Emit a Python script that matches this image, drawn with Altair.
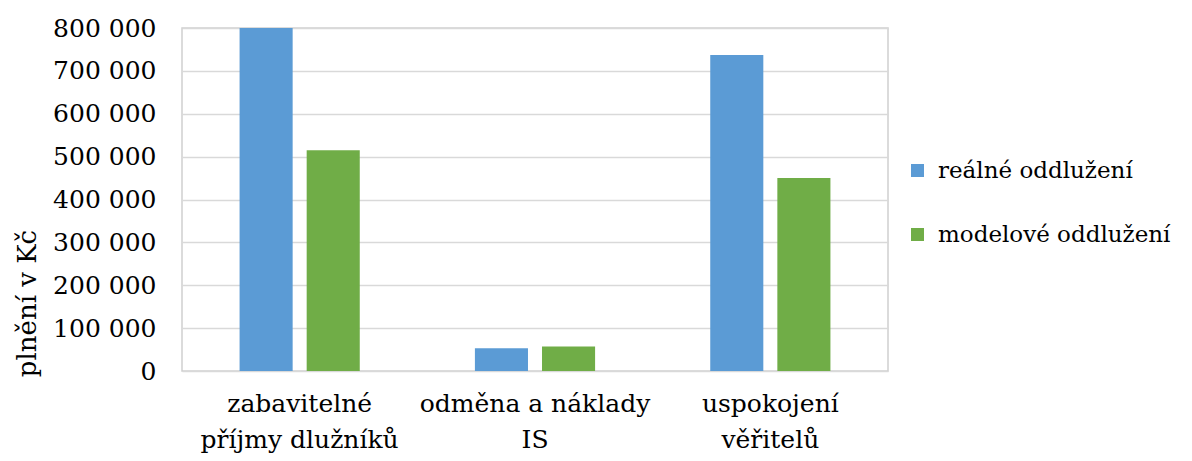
import altair as alt
import pandas as pd

categories = ["zabavitelné|příjmy dlužníků", "odměna a náklady|IS", "uspokojení|věřitelů"]
series = ["reálné oddlužení", "modelové oddlužení"]
real_values = [800000, 53000, 737000]
model_values = [515000, 57000, 450000]
colors = ["#5B9BD5", "#70AD47"]
y_ticks = [0, 100000, 200000, 300000, 400000, 500000, 600000, 700000, 800000]

rows = []
for c, r, m in zip(categories, real_values, model_values):
    rows.append({"cat": c, "series": series[0], "value": r})
    rows.append({"cat": c, "series": series[1], "value": m})
df = pd.DataFrame(rows)

FONT = "DejaVu Serif"
FS = 25

chart = alt.Chart(df).mark_bar().encode(
    x=alt.X(
        "cat:N",
        sort=categories,
        scale=alt.Scale(paddingInner=0, paddingOuter=0),
        axis=alt.Axis(
            title=None,
            labelAngle=0,
            labelExpr="split(datum.label, '|')",
            labelFont=FONT,
            labelFontSize=FS,
            labelColor="black",
            labelLineHeight=36,
            labelPadding=20,
            labelBaseline="top",
            labelLimit=400,
            domain=False,
            ticks=False,
        ),
    ),
    xOffset=alt.XOffset(
        "series:N", sort=series, scale=alt.Scale(paddingInner=0.209, paddingOuter=0.858)
    ),
    y=alt.Y(
        "value:Q",
        scale=alt.Scale(domain=[0, 800000], nice=False),
        axis=alt.Axis(
            title="plnění v Kč",
            values=y_ticks,
            labelExpr="replace(format(datum.value, ','), ',', ' ')",
            labelFont=FONT,
            labelFontSize=FS,
            labelColor="black",
            labelPadding=26,
            titleFont=FONT,
            titleFontSize=26,
            titleFontWeight="normal",
            titleColor="black",
            titleAngle=-90,
            titleAlign="center",
            titleBaseline="alphabetic",
            titleX=-147,
            titleY=275,
            grid=True,
            gridColor="#d9d9d9",
            gridWidth=1.5,
            domain=False,
            ticks=False,
        ),
    ),
    color=alt.Color(
        "series:N",
        sort=series,
        scale=alt.Scale(domain=series, range=colors),
        legend=alt.Legend(
            title=None,
            orient="none",
            legendX=724,
            legendY=131,
            symbolType="square",
            symbolSize=169,
            symbolStrokeWidth=0,
            labelFont=FONT,
            labelFontSize=23,
            labelColor="black",
            labelOffset=9,
            rowPadding=40,
            labelLimit=400,
        ),
    ),
).properties(
    width=706,
    height=343,
    padding={"left": 174, "top": 20, "right": 296, "bottom": 82},
    autosize=alt.AutoSizeParams(type="none"),
).configure_view(
    stroke="#cfcfcf", strokeWidth=1.5
)

chart.save("out.html", embed_options={"renderer": "svg", "actions": False})
